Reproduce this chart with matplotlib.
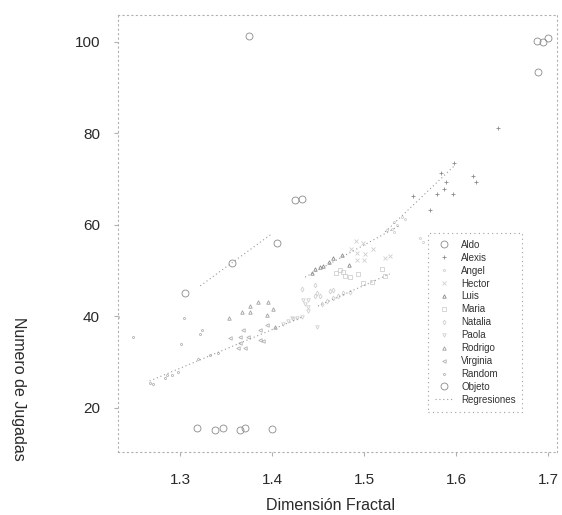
import matplotlib
matplotlib.use("Agg")
import matplotlib.pyplot as plt

plt.rcParams['font.family'] = ['Liberation Sans', 'DejaVu Sans']

# ---- data ----
aldo_x = [1.305, 1.356, 1.405, 1.425, 1.433]
aldo_y = [45.1, 51.7, 56.1, 65.5, 65.7]
alexis_x = [1.598, 1.584, 1.618, 1.589, 1.622, 1.587, 1.579, 1.597, 1.553, 1.572, 1.646]
alexis_y = [73.6, 71.4, 70.7, 69.4, 69.4, 67.9, 66.8, 66.8, 66.3, 63.3, 81.2]
angel_x = [1.541, 1.545, 1.533, 1.536, 1.530, 1.525, 1.533, 1.561, 1.564]
angel_y = [61.7, 61.3, 60.7, 60.0, 59.1, 58.9, 58.5, 57.2, 56.3]
hector_x = [1.491, 1.499, 1.486, 1.492, 1.501, 1.510, 1.500, 1.492, 1.523, 1.528]
hector_y = [56.5, 56.1, 54.8, 53.9, 53.7, 54.8, 52.3, 52.3, 52.8, 53.2]
luis_x = [1.476, 1.466, 1.462, 1.455, 1.452, 1.447, 1.443, 1.484]
luis_y = [53.4, 52.8, 51.9, 51.0, 50.8, 50.4, 49.5, 51.3]
maria_x = [1.474, 1.477, 1.470, 1.479, 1.485, 1.493, 1.520, 1.523, 1.509, 1.499]
maria_y = [50.2, 49.7, 49.5, 48.9, 48.6, 49.3, 50.4, 48.9, 47.5, 47.3]
natalia_x = [1.447, 1.433, 1.466, 1.463, 1.449, 1.447, 1.452, 1.485, 1.477, 1.472, 1.466, 1.460, 1.454]
natalia_y = [46.9, 46.0, 45.8, 45.6, 45.1, 44.5, 44.5, 45.4, 45.1, 44.5, 44.0, 43.4, 42.7]
paola_x = [1.434, 1.439, 1.436, 1.439, 1.439, 1.422, 1.427, 1.433, 1.449, 1.417, 1.423, 1.412]
paola_y = [43.6, 43.6, 42.7, 42.1, 41.2, 39.7, 39.7, 39.9, 37.7, 39.0, 39.5, 38.4]
rodrigo_x = [1.367, 1.376, 1.385, 1.396, 1.401, 1.376, 1.395, 1.353, 1.403]
rodrigo_y = [41.0, 41.0, 43.2, 43.2, 41.6, 42.3, 40.3, 39.7, 37.7]
virginia_x = [1.354, 1.365, 1.374, 1.368, 1.387, 1.395, 1.365, 1.371, 1.363, 1.387, 1.390]
virginia_y = [35.3, 35.5, 35.5, 37.0, 37.0, 38.1, 34.2, 33.1, 33.1, 34.9, 34.6]
random_x = [1.341, 1.333, 1.320, 1.304, 1.324, 1.322, 1.301, 1.286, 1.291, 1.284, 1.298,
            1.267, 1.271, 1.249, 1.233]
random_y = [32.0, 31.6, 30.7, 39.7, 37.0, 36.2, 34.0, 27.2, 27.2, 26.6, 27.9,
            25.5, 25.2, 35.5, 39.9]
objeto_x = [1.318, 1.338, 1.347, 1.365, 1.371, 1.400, 1.375, 1.688, 1.695, 1.700, 1.689]
objeto_y = [15.6, 15.2, 15.6, 15.2, 15.6, 15.4, 101.3, 100.2, 100.0, 100.9, 93.4]

reg_x0 = [1.322, 1.436, 1.450, 1.267, 1.523]
reg_x1 = [1.400, 1.539, 1.528, 1.433, 1.599]
reg_y0 = [46.7, 48.6, 42.3, 25.9, 58.5]
reg_y1 = [58.1, 59.9, 49.3, 39.9, 73.1]

x_ticks = [1.3, 1.4, 1.5, 1.6, 1.7]
x_ticklabels = ['1.3', '1.4', '1.5', '1.6', '1.7']
y_ticks = [20, 40, 60, 80, 100]

# ---- figure ----
fig = plt.figure(figsize=(5.62, 5.15), dpi=100)
ax = fig.add_axes([118/562, 1-452/515, 439/562, 437/515])

dark = '#8a8a8a'
light = '#d0d0d0'
series = [
    ('Aldo', aldo_x, aldo_y, 'o', dark, 5),
    ('Alexis', alexis_x, alexis_y, '+', dark, 3),
    ('Angel', angel_x, angel_y, '.', light, 3),
    ('Hector', hector_x, hector_y, 'x', light, 2.5),
    ('Luis', luis_x, luis_y, '^', dark, 2.5),
    ('Maria', maria_x, maria_y, 's', light, 2.5),
    ('Natalia', natalia_x, natalia_y, 'd', light, 2.5),
    ('Paola', paola_x, paola_y, 'v', light, 2.5),
    ('Rodrigo', rodrigo_x, rodrigo_y, '^', '#a0a0a0', 2.5),
    ('Virginia', virginia_x, virginia_y, '<', '#b0b0b0', 2.5),
    ('Random', random_x, random_y, '.', '#b4b4b4', 3),
    ('Objeto', objeto_x, objeto_y, 'o', dark, 5),
]
for name, xs, ys, m, c, ms in series:
    ax.plot(xs, ys, linestyle='none', marker=m, markersize=ms,
            markerfacecolor='none', markeredgecolor=c, markeredgewidth=0.6,
            label=name)

for i in range(len(reg_x0)):
    ax.plot([reg_x0[i], reg_x1[i]], [reg_y0[i], reg_y1[i]], linestyle=(0, (1, 2.5)),
            color='#999999', linewidth=0.8,
            label='Regresiones' if i == 0 else None)

ax.set_xlim(1.2326, 1.7098)
ax.set_ylim(10.38, 105.9)
ax.set_xticks(x_ticks)
ax.set_xticklabels(x_ticklabels)
ax.set_yticks(y_ticks)
ax.tick_params(axis='x', labelsize=11, length=3, color='#b0b0b0', pad=12, labelcolor='#2a2a2a')
ax.tick_params(axis='y', labelsize=11, length=3, color='#b0b0b0', pad=10, labelcolor='#2a2a2a')
for s in ax.spines.values():
    s.set_linestyle((0, (1, 3)))
    s.set_color('#b0b0b0')
    s.set_linewidth(0.8)

fig.text(330/562, 1-505/515, 'Dimensión Fractal', ha='center', va='center',
         fontsize=11.5, color='#2a2a2a')
fig.text(18/562, 1-389/515, 'Numero de Jugadas', ha='center', va='center',
         rotation=270, fontsize=11.5, color='#2a2a2a')

leg = ax.legend(loc='upper left', bbox_to_anchor=((428-118)/439, (452-233)/437),
                borderaxespad=0, fontsize=7, labelspacing=0.3, handlelength=1.8,
                handletextpad=0.9, borderpad=0.7, fancybox=False, framealpha=1)
leg.get_frame().set_linestyle((0, (1, 3)))
leg.get_frame().set_edgecolor('#a0a0a0')
leg.get_frame().set_linewidth(0.8)
for t in leg.get_texts():
    t.set_color('#333333')

fig.savefig('out.png', dpi=100)
